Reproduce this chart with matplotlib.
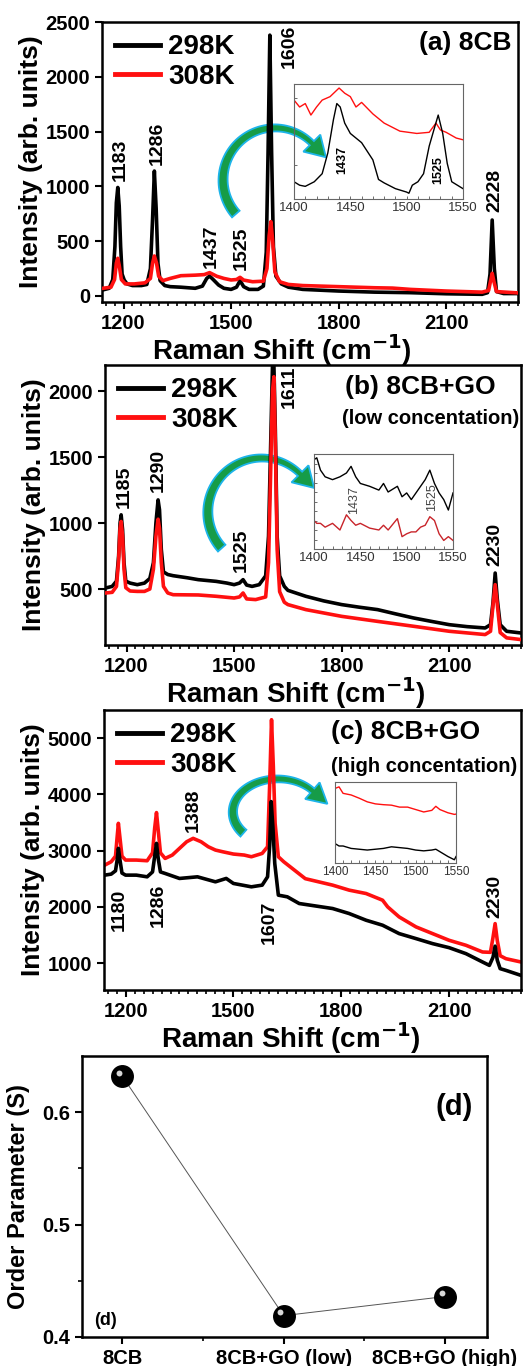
import numpy as np
import matplotlib
matplotlib.use('Agg')
import matplotlib.pyplot as plt
import matplotlib.transforms as mtransforms
from matplotlib.patches import Polygon
from matplotlib.ticker import MultipleLocator, FixedLocator

plt.rcParams['font.family'] = ['Liberation Sans', 'DejaVu Sans']
plt.rcParams['font.weight'] = 'bold'
plt.rcParams['axes.labelweight'] = 'bold'

# ---------------- data ----------------
# (a) 8CB
a_x_298 = [1142, 1160, 1170, 1176, 1180, 1184, 1188, 1192, 1196, 1202, 1210, 1225, 1250, 1265, 1275,
           1281, 1286, 1291, 1296, 1302, 1315, 1330, 1360, 1400, 1420, 1432, 1440, 1450, 1465, 1480,
           1500, 1515, 1525, 1535, 1550, 1575, 1590, 1598, 1603, 1608, 1613, 1618, 1625, 1640, 1660,
           1700, 1800, 1900, 2000, 2100, 2200, 2215, 2222, 2228, 2234, 2240, 2260, 2300]
a_y_298 = [55, 70, 150, 450, 850, 990, 820, 450, 200, 145, 110, 95, 95, 105, 250,
           700, 1140, 800, 300, 140, 95, 85, 80, 70, 90, 160, 182, 150, 100, 70,
           60, 80, 140, 85, 60, 60, 90, 400, 1300, 2380, 1300, 450, 180, 110, 80,
           60, 45, 35, 30, 20, 15, 30, 200, 693, 250, 40, 22, 22]
a_x_308 = [1142, 1165, 1175, 1180, 1184, 1188, 1194, 1205, 1230, 1260, 1275, 1281, 1286, 1292, 1298,
           1310, 1330, 1360, 1400, 1425, 1440, 1460, 1480, 1500, 1515, 1525, 1535, 1560, 1590, 1600,
           1606, 1611, 1616, 1622, 1635, 1660, 1700, 1800, 1900, 1950, 2000, 2100, 2200, 2218, 2223,
           2228, 2233, 2240, 2300]
a_y_308 = [70, 80, 150, 300, 344, 280, 150, 110, 110, 120, 160, 300, 365, 300, 180,
           140, 160, 185, 190, 195, 213, 180, 160, 146, 150, 170, 145, 130, 135, 250,
           550, 678, 500, 220, 130, 105, 95, 85, 75, 72, 60, 45, 35, 50, 130,
           207, 130, 40, 28]

# (b) 8CB+GO low
b_x_298 = [1142, 1160, 1172, 1178, 1182, 1185, 1189, 1193, 1198, 1210, 1230, 1250, 1265, 1275, 1282,
           1288, 1292, 1297, 1303, 1315, 1330, 1370, 1400, 1450, 1480, 1500, 1515, 1525, 1535, 1550,
           1570, 1588, 1596, 1602, 1607, 1611, 1615, 1620, 1627, 1640, 1650, 1700, 1750, 1800, 1850,
           1900, 1950, 2000, 2050, 2100, 2150, 2200, 2215, 2222, 2228, 2234, 2242, 2260, 2300]
b_y_298 = [508, 520, 560, 750, 1000, 1062, 950, 700, 560, 545, 533, 545, 580, 700, 1000,
           1175, 1100, 800, 630, 610, 601, 585, 571, 558, 545, 533, 545, 571, 530, 520,
           533, 600, 900, 1600, 2190, 2195, 1700, 900, 600, 520, 490, 445, 410, 382, 362,
           344, 312, 281, 255, 230, 215, 205, 230, 400, 621, 420, 230, 180, 167]
b_x_308 = [1142, 1160, 1172, 1178, 1182, 1185, 1189, 1193, 1198, 1210, 1230, 1250, 1265, 1275, 1282,
           1288, 1292, 1297, 1303, 1315, 1330, 1400, 1450, 1500, 1515, 1525, 1535, 1560, 1588, 1596,
           1602, 1607, 1611, 1615, 1620, 1627, 1640, 1650, 1700, 1800, 1900, 2000, 2100, 2200, 2215,
           2222, 2228, 2234, 2242, 2260, 2300]
b_y_308 = [470, 475, 520, 720, 960, 1012, 900, 650, 510, 485, 482, 482, 500, 650, 900,
           1029, 960, 700, 520, 470, 457, 455, 445, 432, 440, 470, 425, 420, 440, 700,
           1400, 2000, 2108, 1600, 800, 480, 400, 382, 344, 293, 255, 218, 180, 155, 180,
           380, 533, 380, 170, 130, 117]

# (c) 8CB+GO high
c_x_298 = [1142, 1160, 1172, 1177, 1180, 1184, 1190, 1200, 1230, 1260, 1275, 1281, 1286, 1291, 1297,
           1310, 1350, 1400, 1450, 1480, 1500, 1550, 1580, 1595, 1601, 1605, 1610, 1615, 1625, 1650,
           1683, 1776, 1822, 1869, 1915, 1961, 2008, 2054, 2100, 2147, 2193, 2212, 2222, 2228, 2234,
           2242, 2258, 2300]
c_y_298 = [2563, 2581, 2640, 2850, 3039, 2850, 2600, 2563, 2563, 2533, 2620, 2900, 3128, 2850, 2620,
           2593, 2504, 2533, 2444, 2504, 2415, 2355, 2385, 2533, 3100, 3871, 3400, 2771, 2207, 2177,
           2058, 1969, 1880, 1761, 1672, 1523, 1434, 1345, 1273, 1166, 1018, 958, 1100, 1300, 1050,
           900, 869, 780]
c_x_308 = [1142, 1160, 1172, 1176, 1180, 1184, 1190, 1200, 1230, 1260, 1275, 1281, 1286, 1291, 1297,
           1310, 1330, 1350, 1370, 1388, 1410, 1430, 1450, 1470, 1500, 1530, 1550, 1580, 1595, 1601,
           1606, 1611, 1616, 1625, 1640, 1700, 1776, 1822, 1869, 1915, 1929, 1961, 2008, 2054, 2100,
           2147, 2193, 2215, 2222, 2228, 2234, 2242, 2258, 2300]
c_y_308 = [2741, 2801, 2900, 3200, 3484, 3250, 2900, 2831, 2831, 2819, 2960, 3400, 3675, 3350, 2960,
           2860, 2920, 3039, 3157, 3217, 3157, 3068, 3009, 2979, 2938, 2920, 2890, 2949, 3068, 4200,
           5327, 4500, 3484, 2890, 2801, 2500, 2385, 2296, 2236, 2117, 1999, 1820, 1642, 1523, 1404,
           1315, 1196, 1190, 1450, 1701, 1400, 1130, 1077, 1018]

# insets, 1400-1550 cm-1, normalised intensity
ia_x_308 = [1400, 1405, 1410, 1415, 1420, 1425, 1432, 1440, 1445, 1450, 1455, 1460, 1470, 1480, 1494,
            1509, 1520, 1526, 1530, 1535, 1544, 1550]
ia_y_308 = [0.86, 0.80, 0.83, 0.73, 0.80, 0.86, 0.89, 0.965, 0.92, 0.89, 0.80, 0.84, 0.74, 0.66, 0.59,
            0.57, 0.58, 0.66, 0.60, 0.58, 0.53, 0.515]
ia_x_298 = [1400, 1405, 1410, 1418, 1425, 1430, 1435, 1438, 1441, 1445, 1450, 1460, 1470, 1475, 1480,
            1490, 1500, 1502, 1505, 1510, 1515, 1520, 1525, 1528, 1532, 1536, 1540, 1550]
ia_y_298 = [0.15, 0.12, 0.11, 0.15, 0.22, 0.40, 0.69, 0.83, 0.80, 0.66, 0.57, 0.49, 0.34, 0.17, 0.14,
            0.09, 0.06, 0.05, 0.12, 0.15, 0.22, 0.46, 0.63, 0.73, 0.57, 0.31, 0.15, 0.09]

ib_x = [1400, 1403, 1407, 1412, 1420, 1428, 1435, 1440, 1445, 1450, 1460, 1470, 1475, 1480, 1490,
        1495, 1500, 1505, 1510, 1515, 1520, 1525, 1530, 1535, 1540, 1545, 1550]
ib_y_298 = [0.94, 0.96, 0.83, 0.76, 0.73, 0.76, 0.80, 0.87, 0.76, 0.69, 0.66, 0.62, 0.69, 0.60, 0.66,
            0.55, 0.59, 0.52, 0.59, 0.66, 0.73, 0.83, 0.69, 0.59, 0.52, 0.41, 0.59]
ib_y_308 = [0.30, 0.27, 0.27, 0.23, 0.27, 0.20, 0.36, 0.30, 0.25, 0.27, 0.22, 0.20, 0.25, 0.20, 0.32,
            0.13, 0.16, 0.18, 0.18, 0.23, 0.25, 0.34, 0.30, 0.16, 0.09, 0.13, 0.09]

ic_x = [1400, 1405, 1410, 1420, 1430, 1440, 1450, 1460, 1470, 1480, 1490, 1500, 1510, 1520, 1525,
        1530, 1540, 1548, 1550]
ic_y_308 = [0.92, 0.94, 0.86, 0.84, 0.80, 0.755, 0.73, 0.72, 0.714, 0.69, 0.69, 0.66, 0.63, 0.65, 0.70,
            0.66, 0.62, 0.60, 0.604]
ic_y_298 = [0.24, 0.21, 0.21, 0.18, 0.17, 0.16, 0.17, 0.18, 0.20, 0.19, 0.18, 0.16, 0.15, 0.16, 0.17,
            0.14, 0.08, 0.04, 0.08]

# (d) order parameter
samples = ['8CB', '8CB+GO (low)', '8CB+GO (high)']
order_param = [0.632, 0.419, 0.436]

RED = '#ff1010'
W, H = 526, 1366
fig = plt.figure(figsize=(W / 100, H / 100), dpi=100)


def box(l, t, r, b):
    return [l / W, 1 - b / H, (r - l) / W, (b - t) / H]


def spectrum(rect, x1, y1, x2, y2, black_top, ylim, yticks, xlab_x):
    ax = fig.add_axes(box(*rect))
    zb, zr = (3, 2) if black_top else (2, 3)
    ax.plot(x1, y1, color='black', lw=2.6, zorder=zb, label='298K')
    ax.plot(x2, y2, color=RED, lw=2.6, zorder=zr, label='308K')
    ax.set_xlim(1140, 2300)
    ax.set_ylim(*ylim)
    ax.xaxis.set_major_locator(MultipleLocator(300))
    ax.xaxis.set_minor_locator(MultipleLocator(25))
    ax.yaxis.set_major_locator(FixedLocator(yticks))
    ax.tick_params(which='major', direction='out', length=5, width=1.5, labelsize=14.5)
    ax.tick_params(which='minor', direction='out', length=3, width=1.2)
    for s in ax.spines.values():
        s.set_linewidth(1.8)
    ax.set_xlabel('Raman Shift (cm$^{\\mathbf{-1}}$)', fontsize=20)
    ax.xaxis.label.set_va('center')
    ax.xaxis.set_label_coords(xlab_x, -0.172)
    ax.set_ylabel('Intensity (arb. units)', fontsize=19, labelpad=2)
    leg = ax.legend(loc='upper left', bbox_to_anchor=(-0.015, 1.025), frameon=False,
                    fontsize=20, handlelength=1.6, handletextpad=0.3, labelspacing=0.12,
                    borderpad=0.2)
    for ln in leg.get_lines():
        ln.set_linewidth(3.5)
    return ax


def peak_labels(ax, labels, size=14):
    for txt, x, y in labels:
        ax.text(x, y, txt, rotation=90, ha='center', va='center', fontsize=size,
                fontweight='bold')


def inset(rect, curves, yticks=True, size=9.5):
    ax = fig.add_axes(box(*rect))
    ax.set_facecolor('none')
    for x, y, c in curves:
        ax.plot(x, y, color=c, lw=1.0)
    ax.set_xlim(1400, 1550)
    ax.set_ylim(0, 1)
    ax.xaxis.set_major_locator(MultipleLocator(50))
    ax.xaxis.set_minor_locator(MultipleLocator(10))
    if yticks:
        ax.yaxis.set_major_locator(MultipleLocator(0.1))
    else:
        ax.set_yticks([])
    ax.set_yticklabels([])
    ax.tick_params(which='both', direction='in', length=2, width=0.6, color='#555555',
                   labelsize=size, labelcolor='#333333', pad=2)
    for lab in ax.get_xticklabels():
        lab.set_fontweight('normal')
    for s in ax.spines.values():
        s.set_linewidth(0.8)
        s.set_color('#666666')
    return ax


def arrow(ax, centre, rx, ry, th0=221, th1=45, w0=10, w1=6, head_w=12, head_l=20):
    # curved green pointer: an elliptic arc (pixels) running clockwise from th0 to th1,
    # tapering band plus a triangular head, drawn under the spectra
    cx, cy = ax.transAxes.transform(centre)
    th = np.radians(np.linspace(th0, th1, 60))
    w = np.linspace(w0, w1, th.size) / 2
    px, py = rx * np.cos(th), ry * np.sin(th)
    # outward normal of the ellipse
    nx, ny = np.cos(th) / rx, np.sin(th) / ry
    nn = np.hypot(nx, ny)
    nx, ny = nx / nn, ny / nn
    outer = np.column_stack([cx + px + w * nx, cy + py + w * ny])
    inner = np.column_stack([cx + px - w * nx, cy + py - w * ny])
    # tangent for clockwise travel
    t = np.array([rx * np.sin(th[-1]), -ry * np.cos(th[-1])])
    t /= np.hypot(*t)
    base = np.array([cx + px[-1], cy + py[-1]])
    n_end = np.array([nx[-1], ny[-1]])
    head = [base + head_w * n_end, base + head_l * t, base - head_w * n_end]
    pts = np.vstack([outer, head, inner[::-1]])
    poly = Polygon(pts, closed=True, transform=mtransforms.IdentityTransform(),
                   facecolor='#169c48', edgecolor='#1cb4ea', linewidth=1.3, zorder=1.5,
                   clip_on=False)
    ax.add_patch(poly)


# ---- (a)
ax_a = spectrum((102, 22, 518, 302), a_x_298, a_y_298, a_x_308, a_y_308, False, (-55, 2500),
                [0, 500, 1000, 1500, 2000, 2500], 0.433)
ax_a.text(0.985, 0.925, '(a) 8CB', transform=ax_a.transAxes, ha='right', va='center', fontsize=19)
peak_labels(ax_a, [('1183', 1191, 1241), ('1286', 1293, 1393), ('1437', 1446, 450),
                   ('1525', 1527, 435), ('1606', 1662, 2275), ('2228', 2235, 967)])
ins_a = inset((294, 84, 463, 199), [(ia_x_308, ia_y_308, RED), (ia_x_298, ia_y_298, 'black')])
ins_a.yaxis.set_major_locator(FixedLocator([0.3, 0.88]))
ins_a.set_yticklabels([])
peak_labels(ins_a, [('1437', 1443, 0.34), ('1525', 1528, 0.25)], size=9)
arrow(ax_a, (0.416, 0.436), 52, 52)

# ---- (b)
ax_b = spectrum((105, 365, 521, 645), b_x_298, b_y_298, b_x_308, b_y_308, False, (76, 2197),
                [500, 1000, 1500, 2000], 0.459)
ax_b.text(0.94, 0.92, '(b) 8CB+GO', transform=ax_b.transAxes, ha='right', va='center', fontsize=19)
ax_b.text(0.995, 0.81, '(low concentation)', transform=ax_b.transAxes, ha='right', va='center',
          fontsize=14.5)
peak_labels(ax_b, [('1185', 1195, 1276), ('1290', 1288, 1402), ('1525', 1520, 797),
                   ('1611', 1653, 2033), ('2230', 2228, 835)])
ins_b = inset((314, 454, 453, 549), [(ib_x, ib_y_298, 'black'), (ib_x, ib_y_308, '#c8242a')])
for txt, x, y in [('1437', 1443, 0.52), ('1525', 1527, 0.55)]:
    ins_b.text(x, y, txt, rotation=90, ha='center', va='center', fontsize=9, color='#444444',
               fontweight='normal')
arrow(ax_b, (0.377, 0.475), 54, 54, th0=222)

# ---- (c)
ax_c = spectrum((104, 710, 521, 990), c_x_298, c_y_298, c_x_308, c_y_308, True, (520, 5500),
                [1000, 2000, 3000, 4000, 5000], 0.448)
ax_c.text(0.545, 0.921, '(c) 8CB+GO', transform=ax_c.transAxes, ha='left', va='center', fontsize=19)
ax_c.text(0.545, 0.80, '(high concentation)', transform=ax_c.transAxes, ha='left', va='center',
          fontsize=14.5)
peak_labels(ax_c, [('1180', 1182, 1939), ('1286', 1290, 2028), ('1388', 1388, 3722),
                   ('1607', 1600, 1731), ('2230', 2226, 2177)])
inset((335, 782, 456, 863), [(ic_x, ic_y_308, RED), (ic_x, ic_y_298, 'black')], yticks=False,
      size=8.5)
arrow(ax_c, (0.417, 0.636), 45, 33, th0=220, th1=40, w0=9, w1=6, head_w=11, head_l=20)

# ---- (d)
ax_d = fig.add_axes(box(82, 1056, 487, 1337))
xs = list(range(len(samples)))
ax_d.plot(xs, order_param, color='#555555', lw=0.7, zorder=1)
ax_d.scatter(xs, order_param, s=240, color='black', zorder=3)
hl = mtransforms.offset_copy(ax_d.transData, fig=fig, x=-2.5, y=2.5, units='points')
ax_d.scatter(xs, order_param, s=18, color='#d8d8d8', zorder=4, transform=hl, linewidths=0)
ax_d.set_xlim(-0.25, 2.26)
ax_d.set_ylim(0.4, 0.65)
ax_d.set_xticks(xs)
ax_d.set_xticklabels(samples)
ax_d.xaxis.set_minor_locator(FixedLocator([0.5, 1.5]))
ax_d.yaxis.set_major_locator(FixedLocator([0.4, 0.5, 0.6]))
ax_d.yaxis.set_minor_locator(FixedLocator([0.45, 0.55]))
ax_d.tick_params(which='major', direction='out', length=5, width=1.5, labelsize=14.5)
ax_d.tick_params(which='minor', direction='out', length=3, width=1.2)
for s in ax_d.spines.values():
    s.set_linewidth(1.8)
ax_d.set_ylabel('Order Parameter (S)', fontsize=17, labelpad=9)
ax_d.text(0.92, 0.82, '(d)', transform=ax_d.transAxes, ha='center', va='center', fontsize=21)
ax_d.text(0.03, 0.06, '(d)', transform=ax_d.transAxes, ha='left', va='center', fontsize=13)

fig.savefig('out.png', dpi=100)
